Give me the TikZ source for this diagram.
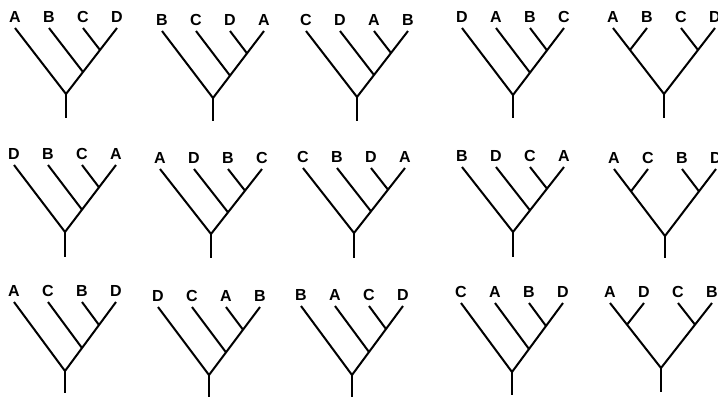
\documentclass[tikz,border=0pt]{standalone}
\usepackage{fontspec}
\setmainfont{Liberation Sans}
\tikzset{
  br/.style={line width=2pt, black},
  lbl/.style={font=\fontsize{16}{16}\selectfont\bfseries, inner sep=0pt, anchor=south, yshift=5pt}
}
\def\ta{51}
\newcommand{\treebase}[9]{%
  \coordinate (#1r) at (#2,#3);
  \coordinate (#1b) at (#2,#5);
  \coordinate (#1p) at ({#2-\ta},#4);
  \coordinate (#1q) at ({#2-\ta/3},#4);
  \coordinate (#1s) at ({#2+\ta/3},#4);
  \coordinate (#1t) at ({#2+\ta},#4);
  \node[lbl] (#1P) at (#1p) {#6};
  \node[lbl] (#1Q) at (#1q) {#7};
  \node[lbl] (#1S) at (#1s) {#8};
  \node[lbl] (#1T) at (#1t) {#9};
  \draw[br] (#1r) -- (#1b);
  \draw[br] (#1p) -- (#1r) -- (#1t);
}
\newcommand{\ladtree}[9]{%
  \treebase{#1}{#2}{#3}{#4}{#5}{#6}{#7}{#8}{#9}
  \coordinate (#1j) at ({#2+\ta/3},{#3-(#3-#4)/3});
  \coordinate (#1k) at ({#2+2*\ta/3},{#3-2*(#3-#4)/3});
  \draw[br] (#1q) -- (#1j);
  \draw[br] (#1s) -- (#1k);
}
\newcommand{\baltree}[9]{%
  \treebase{#1}{#2}{#3}{#4}{#5}{#6}{#7}{#8}{#9}
  \coordinate (#1j) at ({#2-2*\ta/3},{#3-2*(#3-#4)/3});
  \coordinate (#1k) at ({#2+2*\ta/3},{#3-2*(#3-#4)/3});
  \draw[br] (#1q) -- (#1j);
  \draw[br] (#1s) -- (#1k);
}
\begin{document}
\begin{tikzpicture}[x=1pt,y=-1pt]
\fill[white] (0,0) rectangle (718,397);
\useasboundingbox (0,0) rectangle (718,397);
% row 1
\ladtree{a}{66}{94}{28}{118}{A}{B}{C}{D}
\ladtree{b}{213}{98}{31}{121}{B}{C}{D}{A}
\ladtree{c}{357}{97}{31}{121}{C}{D}{A}{B}
\ladtree{d}{513}{95}{28}{118}{D}{A}{B}{C}
\baltree{e}{664}{94}{28}{118}{A}{B}{C}{D}
% row 2
\ladtree{f}{65}{232}{165}{257}{D}{B}{C}{A}
\ladtree{g}{211}{234}{169}{258}{A}{D}{B}{C}
\ladtree{h}{354}{233}{168}{258}{C}{B}{D}{A}
\ladtree{i}{513}{232}{167}{257}{B}{D}{C}{A}
\baltree{k}{665}{236}{169}{258}{A}{C}{B}{D}
% row 3
\ladtree{l}{65}{371}{302}{393}{A}{C}{B}{D}
\ladtree{m}{209}{375}{307}{397}{D}{C}{A}{B}
\ladtree{n}{352}{375}{306}{397}{B}{A}{C}{D}
\ladtree{o}{512}{372}{303}{395}{C}{A}{B}{D}
\baltree{q}{661}{368}{303}{392}{A}{D}{C}{B}
\end{tikzpicture}
\end{document}
